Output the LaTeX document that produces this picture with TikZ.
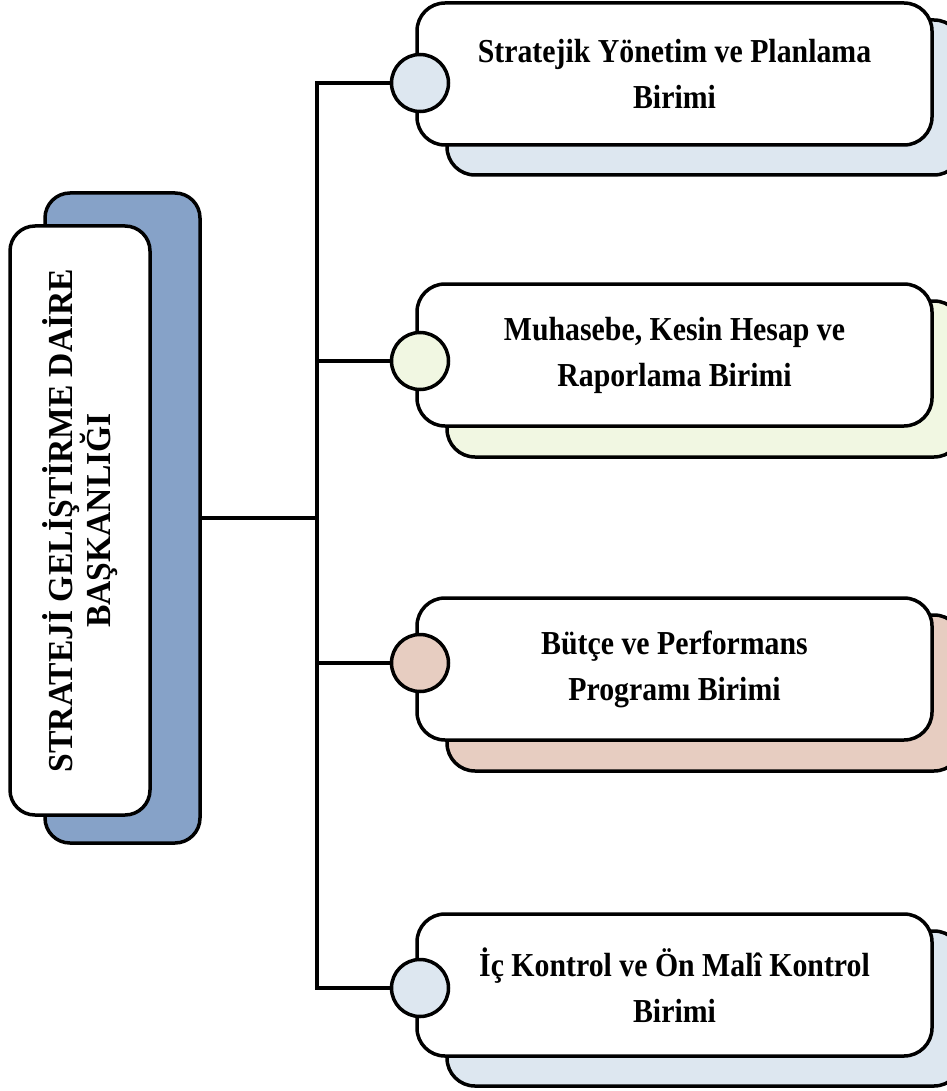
\documentclass[tikz,border=0pt]{standalone}
\usepackage{fontspec}
\setmainfont{Liberation Serif}
\newfontfamily\tallfont[FakeStretch=0.89]{Liberation Serif}
\newfontfamily\narrowfont[FakeStretch=0.96]{Liberation Serif}
\definecolor{paleblue}{HTML}{DDE7F0}
\definecolor{palegreen}{HTML}{F1F7E2}
\definecolor{palerose}{HTML}{E7CDC1}
\definecolor{steel}{HTML}{86A2C8}
\begin{document}
\begin{tikzpicture}[x=1pt,y=-1pt,line width=3.5pt,
	backcard/.style={draw,rounded corners=28pt},
	card/.style={draw,fill=white,rounded corners=28pt,minimum width=515pt,minimum height=142pt,
		align=center,font=\tallfont\bfseries\fontsize{33.5}{46}\selectfont},
	knob/.style={draw,circle,minimum size=57pt,inner sep=0pt}]
	\useasboundingbox (0,0) rectangle (946,1091);
	% head
	\node[draw,fill=steel,rounded corners=25pt,minimum width=155pt,minimum height=650pt] (headback) at (122.5,518) {};
	\node[draw,fill=white,rounded corners=25pt,rotate=90,minimum width=589pt,minimum height=140pt,
		align=center,font=\narrowfont\bfseries\fontsize{35}{35}\selectfont] (head) at (80,520.5) {STRATEJİ GELİŞTİRME DAİRE\\BAŞKANLIĞI};
	% units
	\draw[backcard,fill=paleblue] (447,20) rectangle (962,175);
	\node[card] (u1) at (674.5,74) {Stratejik Yönetim ve Planlama\\Birimi};
	\node[knob,fill=paleblue] (k1) at (420,83) {};
	\draw[backcard,fill=palegreen] (447,301) rectangle (962,457);
	\node[card] (u2) at (674.5,355) {Muhasebe, Kesin Hesap ve\\Raporlama Birimi};
	\node[knob,fill=palegreen] (k2) at (420,361) {};
	\draw[backcard,fill=palerose] (447,615) rectangle (962,771);
	\node[card] (u3) at (674.5,669) {Bütçe ve Performans\\Programı Birimi};
	\node[knob,fill=palerose] (k3) at (420,663) {};
	\draw[backcard,fill=paleblue] (447,931) rectangle (962,1086);
	\node[card] (u4) at (674.5,985) {İç Kontrol ve Ön Malî Kontrol\\Birimi};
	\node[knob,fill=paleblue] (k4) at (420,988) {};
	% trunk
	\coordinate (j) at (317,518);
	\draw (headback.east) -- (j);
	\draw (k1.west) -- (k1.west -| j) -- (k4.west -| j) -- (k4.west);
	\draw (k2.west) -- (k2.west -| j);
	\draw (k3.west) -- (k3.west -| j);
\end{tikzpicture}
\end{document}
